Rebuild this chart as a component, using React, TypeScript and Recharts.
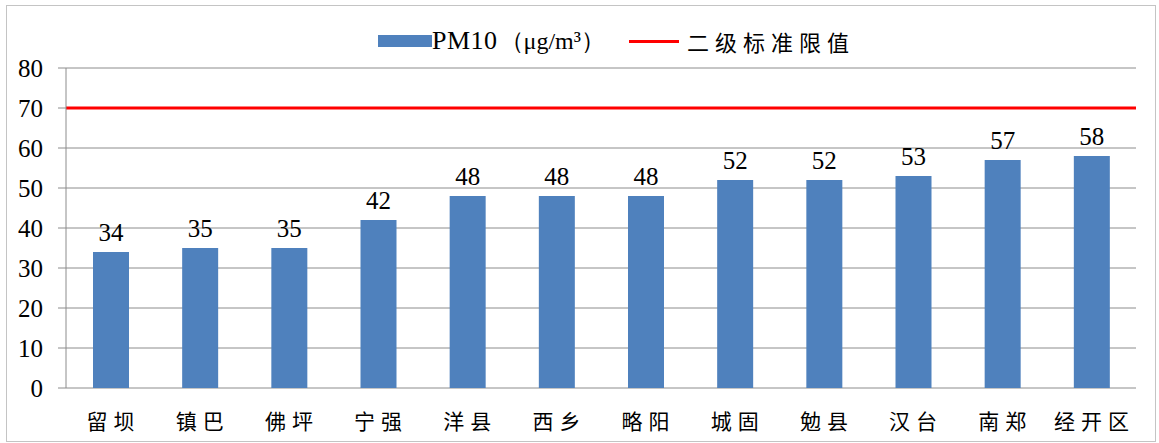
import { BarChart, Bar, XAxis, YAxis, CartesianGrid, ReferenceLine, LabelList } from "recharts";

const counties = ["留坝", "镇巴", "佛坪", "宁强", "洋县", "西乡", "略阳", "城固", "勉县", "汉台", "南郑", "经开区"];
const pm10 = [34, 35, 35, 42, 48, 48, 48, 52, 52, 53, 57, 58];
const limitValue = 70;
const yTicks = [0, 10, 20, 30, 40, 50, 60, 70, 80];
const boundaryTicks = counties.map((_, i) => i).concat([counties.length]);

const data = counties.map((name, i) => ({ name, pm10: pm10[i] }));

const serif = "'Liberation Serif', 'Times New Roman', serif";
const cjk = "'Noto Sans CJK SC', sans-serif";
const gridGray = "#8c8c8c";

export default function App() {
  return (
    <div
      style={{
        position: "absolute",
        left: 6,
        top: 5,
        width: 1148,
        height: 435,
        border: "1px solid #c4c4c4",
        background: "#fff",
      }}
    >
      <div
        style={{
          position: "absolute",
          top: 20,
          left: 371,
          height: 30,
          display: "flex",
          alignItems: "center",
          color: "#000",
          whiteSpace: "nowrap",
        }}
      >
        <span style={{ display: "inline-block", width: 54, height: 12, background: "#4f81bd" }} />
        <span style={{ fontFamily: serif, fontSize: 26, letterSpacing: 0.5 }}>PM10</span>
        <span style={{ fontFamily: serif, fontSize: 24, marginLeft: 2 }}>（μg/m³）</span>
        <span style={{ display: "inline-block", width: 50, height: 3, background: "#ff0000", marginLeft: 24, marginRight: 8 }} />
        <span style={{ fontFamily: cjk, fontSize: 22, letterSpacing: 6 }}>二级标准限值</span>
      </div>
      <BarChart width={1148} height={435} data={data} margin={{ top: 62, right: 19, bottom: 0, left: 0 }}>
        <CartesianGrid xAxisId="cat" vertical={false} stroke={gridGray} />
        <XAxis
          xAxisId="grid"
          type="number"
          domain={[0, counties.length]}
          ticks={boundaryTicks}
          height={0}
          tick={false}
          tickSize={8}
          stroke={gridGray}
          orientation="bottom"
        />
        <XAxis
          xAxisId="cat"
          dataKey="name"
          height={53}
          axisLine={false}
          tickLine={false}
          tickSize={0}
          tickMargin={26}
          interval={0}
          tick={{ fill: "#000", fontSize: 21, fontFamily: cjk, letterSpacing: 6, dx: 3 }}
        />
        <YAxis
          width={59}
          domain={[0, 80]}
          ticks={yTicks}
          tickSize={8}
          tickMargin={15}
          stroke={gridGray}
          tick={{ fill: "#000", fontSize: 25, fontFamily: serif }}
        />
        <Bar xAxisId="cat" dataKey="pm10" fill="#4f81bd" barSize={36} isAnimationActive={false}>
          <LabelList dataKey="pm10" position="top" offset={11} fill="#000" fontSize={25} fontFamily={serif} />
        </Bar>
        <ReferenceLine xAxisId="cat" y={limitValue} stroke="#ff0000" strokeWidth={3} />
      </BarChart>
    </div>
  );
}
